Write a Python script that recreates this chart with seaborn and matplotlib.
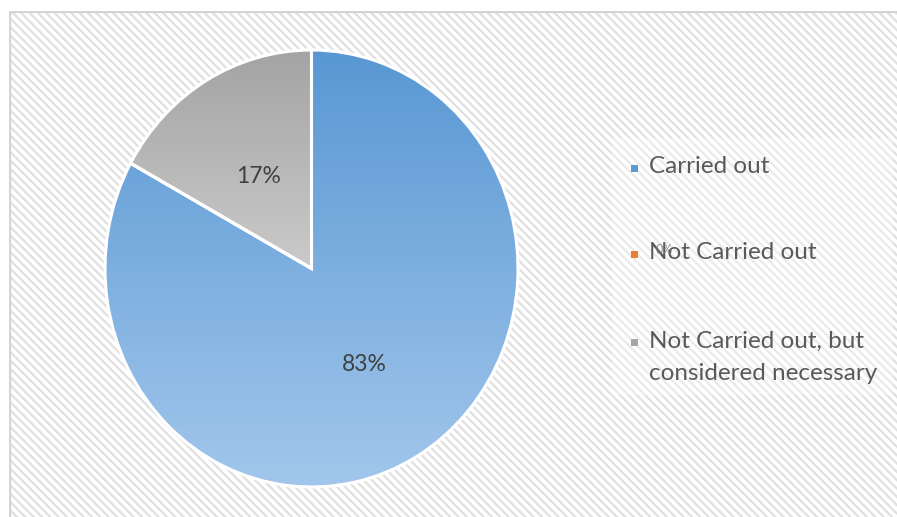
import numpy as np
import matplotlib
matplotlib.use("Agg")
import matplotlib.pyplot as plt
from matplotlib.patches import Rectangle
import seaborn as sns

# Survey answers (share of respondents, %)
categories = ["Carried out", "Not Carried out", "Not Carried out, but\nconsidered necessary"]
shares = [83, 0, 17]
slice_colors = ["#5b9bd5", "#ed7d31", "#a5a5a5"]

sns.set_theme(style="white")
plt.rcParams["font.family"] = ["Lato", "DejaVu Sans"]
plt.rcParams["hatch.linewidth"] = 1.6

W, H = 897, 517
fig = plt.figure(figsize=(W / 100, H / 100), dpi=100)
fig.patch.set_facecolor("white")

# striped chart-area background
bg = Rectangle((10 / W, -0.01), 1.0, (H - 12) / H + 0.01, transform=fig.transFigure,
               facecolor="white", edgecolor="#e0e0e0", hatch="\\" * 4, lw=1.0, zorder=-10)
fig.add_artist(bg)
frame = Rectangle((10 / W, -0.01), 1.0, (H - 12) / H + 0.01, transform=fig.transFigure,
                  facecolor="none", edgecolor="#d0d0d0", lw=1.2, zorder=-9)
fig.add_artist(frame)

# pie area
ax = fig.add_axes([105 / W, (H - 487) / H, 413 / W, 437 / H])
wedges, _ = ax.pie(shares, colors=slice_colors, startangle=90, counterclock=False,
                   wedgeprops=dict(edgecolor="white", linewidth=2.2))

# vertical gradient fill inside each visible slice
gradients = {
    0: ((88, 151, 211), (162, 199, 236), (-1, 1)),
    2: ((163, 163, 163), (203, 203, 203), (0, 1)),
}
for idx, (top, bot, (y0, y1)) in gradients.items():
    w = wedges[idx]
    t = np.linspace(0, 1, 256)[:, None]
    rgb = (np.array(top)[None, None, :] * (1 - t[..., None]) +
           np.array(bot)[None, None, :] * t[..., None]) / 255.0
    rgb = np.repeat(rgb, 2, axis=1)
    im = ax.imshow(rgb, extent=[-1.05, 1.05, y0 - 0.02, y1 + 0.02], origin="upper",
                   aspect="auto", zorder=w.get_zorder() - 0.5, interpolation="bilinear")
    im.set_clip_path(w)
    w.set_facecolor("none")
    w.set_zorder(w.get_zorder() + 0.5)

ax.set_xlim(-1, 1)
ax.set_ylim(-1, 1)
ax.set_aspect("auto")
ax.axis("off")

# percentage labels at the middle of each slice
total = sum(shares)
angle = 90.0
for v in shares:
    span = 360.0 * v / total
    mid = np.deg2rad(angle - span / 2)
    angle -= span
    if v > 0:
        ax.text(0.5 * np.cos(mid), 0.5 * np.sin(mid) - 0.01, f"{v}%", ha="center", va="center",
                fontsize=16.5, color="#404040")

# zero-share label sitting over the legend
fig.text(664 / W, 1 - 250 / H, f"{shares[1]}%", fontsize=9, color="#7a7a7a",
         ha="center", va="center", alpha=0.85, zorder=6)

# legend panel
panel = Rectangle((612 / W, 1 - 395 / H), 281 / W, 257 / H, transform=fig.transFigure,
                  facecolor="white", edgecolor="none", alpha=0.35, zorder=-5)
fig.add_artist(panel)

baselines = [173, 259, 348]
marker_y = [168, 254, 342]
for label, col, yb, ym in zip(categories, slice_colors, baselines, marker_y):
    fig.add_artist(Rectangle((631 / W, 1 - (ym + 3.5) / H), 7 / W, 7 / H,
                             transform=fig.transFigure, facecolor=col, edgecolor="none", zorder=5))
    first, *rest = label.split("\n")
    fig.text(649 / W, 1 - yb / H, first, fontsize=17.5, color="#595959",
             ha="left", va="baseline", zorder=5)
    for k, line in enumerate(rest, start=1):
        fig.text(649 / W, 1 - (yb + 32 * k) / H, line, fontsize=17.5, color="#595959",
                 ha="left", va="baseline", zorder=5)

fig.savefig("out.png", dpi=100)
